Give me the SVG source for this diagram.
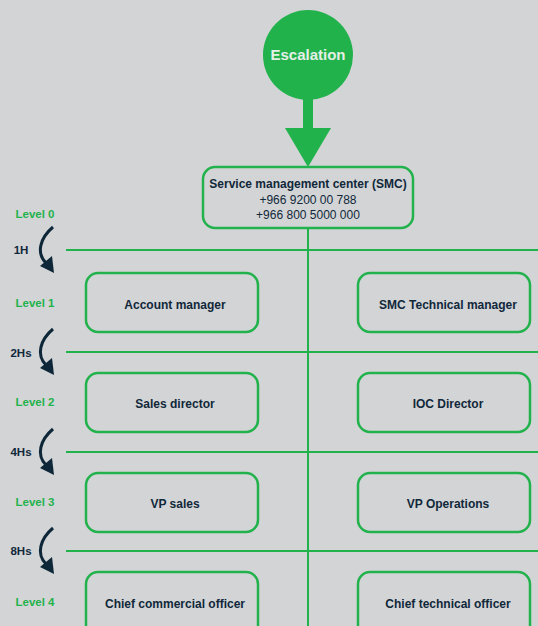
<svg xmlns="http://www.w3.org/2000/svg" width="538" height="626" viewBox="0 0 538 626">
<defs>
<style>
.bg{fill:#d3d4d6}
.box{fill:none;stroke:#22b24c;stroke-width:2.5}
.ln{stroke:#22b24c;stroke-width:2;fill:none}
.t{font-family:"Liberation Sans",Arial,sans-serif;font-size:12px;font-weight:bold;fill:#10283a;text-anchor:middle}
.p{font-family:"Liberation Sans",Arial,sans-serif;font-size:12px;fill:#10283a;text-anchor:middle}
.lv{font-family:"Liberation Sans",Arial,sans-serif;font-size:11.5px;font-weight:bold;fill:#22b24c;text-anchor:middle}
.tm{font-family:"Liberation Sans",Arial,sans-serif;font-size:11.5px;font-weight:bold;fill:#10283a;text-anchor:middle}
.ca{stroke:#0d2638;stroke-width:3;fill:none}
.hd{fill:#0d2638}
</style>
</defs>
<rect class="bg" x="0" y="0" width="538" height="626"/>

<g id="connectors">
<rect x="303" y="99" width="10" height="30" fill="#22b24c"/>
<polygon points="285,128 331,128 308,167" fill="#22b24c"/>
<line class="ln" x1="308" y1="228" x2="308" y2="626"/>
<line class="ln" x1="66" y1="250" x2="538" y2="250"/>
<line class="ln" x1="66" y1="352" x2="538" y2="352"/>
<line class="ln" x1="66" y1="452" x2="538" y2="452"/>
<line class="ln" x1="66" y1="551" x2="538" y2="551"/>
<g id="arrow-1h"><path class="ca" d="M53,227 C40,238 36,253 46,263"/><polygon class="hd" points="40,266 52,256 54,273"/></g>
<g id="arrow-2hs"><path class="ca" d="M53,329 C40,340 36,355 46,365"/><polygon class="hd" points="40,368 52,358 54,375"/></g>
<g id="arrow-4hs"><path class="ca" d="M53,429 C40,440 36,455 46,465"/><polygon class="hd" points="40,468 52,458 54,475"/></g>
<g id="arrow-8hs"><path class="ca" d="M53,528 C40,539 36,554 46,564"/><polygon class="hd" points="40,567 52,557 54,574"/></g>
</g>

<g id="escalation">
<circle cx="308" cy="55" r="45" fill="#22b24c"/>
<text x="308" y="60" font-family="Liberation Sans,Arial,sans-serif" font-size="15" font-weight="bold" fill="#e4efe6" text-anchor="middle">Escalation</text>
</g>

<g id="smc">
<rect class="box" x="203" y="167" width="210" height="61" rx="12"/>
<text class="t" x="308" y="188">Service management center (SMC)</text>
<text class="p" x="308" y="204">+966 9200 00 788</text>
<text class="p" x="308" y="219">+966 800 5000 000</text>
</g>

<g id="levels">
<text class="lv" x="35" y="218">Level 0</text>
<text class="lv" x="35" y="307">Level 1</text>
<text class="lv" x="35" y="406">Level 2</text>
<text class="lv" x="35" y="506">Level 3</text>
<text class="lv" x="35" y="606">Level 4</text>
<text class="tm" x="21" y="254">1H</text>
<text class="tm" x="21" y="357">2Hs</text>
<text class="tm" x="21" y="456">4Hs</text>
<text class="tm" x="21" y="555">8Hs</text>
</g>

<g id="account-manager"><rect class="box" x="86" y="273" width="172" height="59" rx="12"/><text class="t" x="175" y="309">Account manager</text></g>
<g id="smc-technical-manager"><rect class="box" x="358" y="273" width="172" height="59" rx="12"/><text class="t" x="448" y="309">SMC Technical manager</text></g>
<g id="sales-director"><rect class="box" x="86" y="373" width="172" height="59" rx="12"/><text class="t" x="175" y="408">Sales director</text></g>
<g id="ioc-director"><rect class="box" x="358" y="373" width="172" height="59" rx="12"/><text class="t" x="448" y="408">IOC Director</text></g>
<g id="vp-sales"><rect class="box" x="86" y="473" width="172" height="59" rx="12"/><text class="t" x="175" y="508">VP sales</text></g>
<g id="vp-operations"><rect class="box" x="358" y="473" width="172" height="59" rx="12"/><text class="t" x="448" y="508">VP Operations</text></g>
<g id="chief-commercial-officer"><rect class="box" x="86" y="572" width="172" height="70" rx="12"/><text class="t" x="175" y="608">Chief commercial officer</text></g>
<g id="chief-technical-officer"><rect class="box" x="358" y="572" width="172" height="70" rx="12"/><text class="t" x="448" y="608">Chief technical officer</text></g>
</svg>
